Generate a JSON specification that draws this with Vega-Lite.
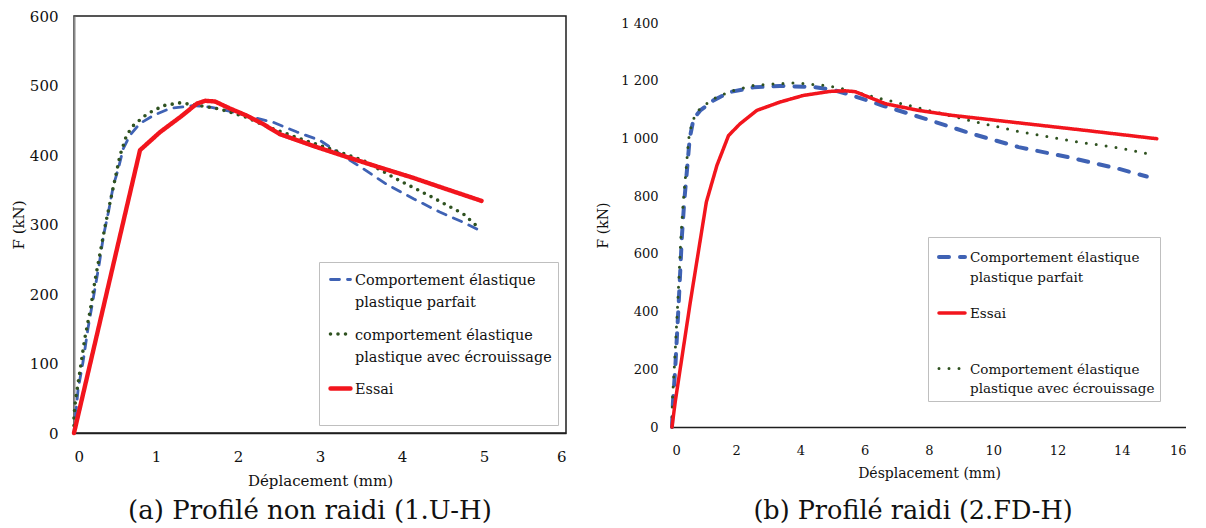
{
  "$schema": "https://vega.github.io/schema/vega-lite/v6.json",
  "background": "white",
  "padding": {"left": 10, "top": 8, "right": 0, "bottom": 0},
  "config": {
    "font": "DejaVu Serif",
    "view": {"stroke": "#1e1e1e", "strokeWidth": 1.5},
    "axis": {"grid": false, "ticks": false, "labelFont": "DejaVu Serif", "titleFont": "DejaVu Serif", "labelColor": "#111111", "titleColor": "#111111", "titleFontWeight": "normal"},
    "concat": {"spacing": 29},
    "legend": {"labelFont": "DejaVu Serif", "labelColor": "#111111", "labelLimit": 600},
    "title": {"font": "DejaVu Serif"}
  },
  "resolve": {
    "scale": {"color": "independent", "strokeDash": "independent", "strokeWidth": "independent", "x": "independent", "y": "independent"},
    "legend": {"color": "independent", "strokeDash": "independent", "strokeWidth": "independent"}
  },
  "datasets": {
    "L": [
      {"s": "Comportement élastique\nplastique parfait", "i": 0, "d": 0, "F": 0},
      {"s": "Comportement élastique\nplastique parfait", "i": 1, "d": 0.05, "F": 63},
      {"s": "Comportement élastique\nplastique parfait", "i": 2, "d": 0.11, "F": 102},
      {"s": "Comportement élastique\nplastique parfait", "i": 3, "d": 0.17, "F": 150},
      {"s": "Comportement élastique\nplastique parfait", "i": 4, "d": 0.24, "F": 197},
      {"s": "Comportement élastique\nplastique parfait", "i": 5, "d": 0.31, "F": 245},
      {"s": "Comportement élastique\nplastique parfait", "i": 6, "d": 0.36, "F": 284},
      {"s": "Comportement élastique\nplastique parfait", "i": 7, "d": 0.42, "F": 318},
      {"s": "Comportement élastique\nplastique parfait", "i": 8, "d": 0.48, "F": 356},
      {"s": "Comportement élastique\nplastique parfait", "i": 9, "d": 0.54, "F": 380},
      {"s": "Comportement élastique\nplastique parfait", "i": 10, "d": 0.60, "F": 409},
      {"s": "Comportement élastique\nplastique parfait", "i": 11, "d": 0.68, "F": 428},
      {"s": "Comportement élastique\nplastique parfait", "i": 12, "d": 0.80, "F": 445},
      {"s": "Comportement élastique\nplastique parfait", "i": 13, "d": 0.97, "F": 457},
      {"s": "Comportement élastique\nplastique parfait", "i": 14, "d": 1.17, "F": 467},
      {"s": "Comportement élastique\nplastique parfait", "i": 15, "d": 1.45, "F": 471},
      {"s": "Comportement élastique\nplastique parfait", "i": 16, "d": 1.66, "F": 469},
      {"s": "Comportement élastique\nplastique parfait", "i": 17, "d": 1.94, "F": 462},
      {"s": "Comportement élastique\nplastique parfait", "i": 18, "d": 2.19, "F": 454},
      {"s": "Comportement élastique\nplastique parfait", "i": 19, "d": 2.43, "F": 447},
      {"s": "Comportement élastique\nplastique parfait", "i": 20, "d": 2.72, "F": 433},
      {"s": "Comportement élastique\nplastique parfait", "i": 21, "d": 3.0, "F": 421},
      {"s": "Comportement élastique\nplastique parfait", "i": 22, "d": 3.24, "F": 402},
      {"s": "Comportement élastique\nplastique parfait", "i": 23, "d": 3.53, "F": 380},
      {"s": "Comportement élastique\nplastique parfait", "i": 24, "d": 3.81, "F": 358},
      {"s": "Comportement élastique\nplastique parfait", "i": 25, "d": 4.14, "F": 337},
      {"s": "Comportement élastique\nplastique parfait", "i": 26, "d": 4.46, "F": 318},
      {"s": "Comportement élastique\nplastique parfait", "i": 27, "d": 4.75, "F": 303},
      {"s": "Comportement élastique\nplastique parfait", "i": 28, "d": 4.99, "F": 289},
      {"s": "comportement élastique\nplastique avec écrouissage", "i": 0, "d": 0, "F": 0},
      {"s": "comportement élastique\nplastique avec écrouissage", "i": 1, "d": 0, "F": 25},
      {"s": "comportement élastique\nplastique avec écrouissage", "i": 2, "d": 0.02, "F": 49},
      {"s": "comportement élastique\nplastique avec écrouissage", "i": 3, "d": 0.07, "F": 87},
      {"s": "comportement élastique\nplastique avec écrouissage", "i": 4, "d": 0.13, "F": 135},
      {"s": "comportement élastique\nplastique avec écrouissage", "i": 5, "d": 0.20, "F": 178},
      {"s": "comportement élastique\nplastique avec écrouissage", "i": 6, "d": 0.26, "F": 222},
      {"s": "comportement élastique\nplastique avec écrouissage", "i": 7, "d": 0.32, "F": 260},
      {"s": "comportement élastique\nplastique avec écrouissage", "i": 8, "d": 0.38, "F": 298},
      {"s": "comportement élastique\nplastique avec écrouissage", "i": 9, "d": 0.44, "F": 332},
      {"s": "comportement élastique\nplastique avec écrouissage", "i": 10, "d": 0.50, "F": 365},
      {"s": "comportement élastique\nplastique avec écrouissage", "i": 11, "d": 0.56, "F": 399},
      {"s": "comportement élastique\nplastique avec écrouissage", "i": 12, "d": 0.64, "F": 428},
      {"s": "comportement élastique\nplastique avec écrouissage", "i": 13, "d": 0.72, "F": 442},
      {"s": "comportement élastique\nplastique avec écrouissage", "i": 14, "d": 0.89, "F": 459},
      {"s": "comportement élastique\nplastique avec écrouissage", "i": 15, "d": 1.09, "F": 471},
      {"s": "comportement élastique\nplastique avec écrouissage", "i": 16, "d": 1.29, "F": 475},
      {"s": "comportement élastique\nplastique avec écrouissage", "i": 17, "d": 1.54, "F": 471},
      {"s": "comportement élastique\nplastique avec écrouissage", "i": 18, "d": 1.78, "F": 466},
      {"s": "comportement élastique\nplastique avec écrouissage", "i": 19, "d": 2.11, "F": 454},
      {"s": "comportement élastique\nplastique avec écrouissage", "i": 20, "d": 2.31, "F": 443},
      {"s": "comportement élastique\nplastique avec écrouissage", "i": 21, "d": 2.72, "F": 425},
      {"s": "comportement élastique\nplastique avec écrouissage", "i": 22, "d": 3.12, "F": 409},
      {"s": "comportement élastique\nplastique avec écrouissage", "i": 23, "d": 3.53, "F": 392},
      {"s": "comportement élastique\nplastique avec écrouissage", "i": 24, "d": 3.94, "F": 365},
      {"s": "comportement élastique\nplastique avec écrouissage", "i": 25, "d": 4.34, "F": 341},
      {"s": "comportement élastique\nplastique avec écrouissage", "i": 26, "d": 4.75, "F": 315},
      {"s": "comportement élastique\nplastique avec écrouissage", "i": 27, "d": 4.93, "F": 296},
      {"s": "Essai", "i": 0, "d": 0, "F": 0},
      {"s": "Essai", "i": 1, "d": 0.805, "F": 407},
      {"s": "Essai", "i": 2, "d": 1.05, "F": 433},
      {"s": "Essai", "i": 3, "d": 1.3, "F": 455},
      {"s": "Essai", "i": 4, "d": 1.5, "F": 474},
      {"s": "Essai", "i": 5, "d": 1.6, "F": 478},
      {"s": "Essai", "i": 6, "d": 1.72, "F": 477},
      {"s": "Essai", "i": 7, "d": 1.9, "F": 467},
      {"s": "Essai", "i": 8, "d": 2.1, "F": 457},
      {"s": "Essai", "i": 9, "d": 2.3, "F": 445},
      {"s": "Essai", "i": 10, "d": 2.51, "F": 430},
      {"s": "Essai", "i": 11, "d": 2.92, "F": 413},
      {"s": "Essai", "i": 12, "d": 3.33, "F": 397},
      {"s": "Essai", "i": 13, "d": 3.73, "F": 382},
      {"s": "Essai", "i": 14, "d": 4.14, "F": 367},
      {"s": "Essai", "i": 15, "d": 4.54, "F": 351},
      {"s": "Essai", "i": 16, "d": 4.97, "F": 334}
    ],
    "R": [
      {"s": "Comportement élastique\nplastique parfait", "i": 0, "d": 0, "F": 0},
      {"s": "Comportement élastique\nplastique parfait", "i": 1, "d": 0.03, "F": 87},
      {"s": "Comportement élastique\nplastique parfait", "i": 2, "d": 0.10, "F": 202},
      {"s": "Comportement élastique\nplastique parfait", "i": 3, "d": 0.21, "F": 433},
      {"s": "Comportement élastique\nplastique parfait", "i": 4, "d": 0.31, "F": 664},
      {"s": "Comportement élastique\nplastique parfait", "i": 5, "d": 0.38, "F": 780},
      {"s": "Comportement élastique\nplastique parfait", "i": 6, "d": 0.47, "F": 895},
      {"s": "Comportement élastique\nplastique parfait", "i": 7, "d": 0.55, "F": 999},
      {"s": "Comportement élastique\nplastique parfait", "i": 8, "d": 0.67, "F": 1068},
      {"s": "Comportement élastique\nplastique parfait", "i": 9, "d": 0.88, "F": 1097},
      {"s": "Comportement élastique\nplastique parfait", "i": 10, "d": 1.29, "F": 1132},
      {"s": "Comportement élastique\nplastique parfait", "i": 11, "d": 1.81, "F": 1161},
      {"s": "Comportement élastique\nplastique parfait", "i": 12, "d": 2.54, "F": 1177},
      {"s": "Comportement élastique\nplastique parfait", "i": 13, "d": 3.36, "F": 1182},
      {"s": "Comportement élastique\nplastique parfait", "i": 14, "d": 4.40, "F": 1178},
      {"s": "Comportement élastique\nplastique parfait", "i": 15, "d": 5.0, "F": 1169},
      {"s": "Comportement élastique\nplastique parfait", "i": 16, "d": 5.61, "F": 1149},
      {"s": "Comportement élastique\nplastique parfait", "i": 17, "d": 6.55, "F": 1114},
      {"s": "Comportement élastique\nplastique parfait", "i": 18, "d": 7.89, "F": 1068},
      {"s": "Comportement élastique\nplastique parfait", "i": 19, "d": 9.34, "F": 1016},
      {"s": "Comportement élastique\nplastique parfait", "i": 20, "d": 10.79, "F": 970},
      {"s": "Comportement élastique\nplastique parfait", "i": 21, "d": 12.34, "F": 935},
      {"s": "Comportement élastique\nplastique parfait", "i": 22, "d": 13.90, "F": 895},
      {"s": "Comportement élastique\nplastique parfait", "i": 23, "d": 14.78, "F": 868},
      {"s": "Comportement élastique\nplastique avec écrouissage", "i": 0, "d": 0, "F": 0},
      {"s": "Comportement élastique\nplastique avec écrouissage", "i": 1, "d": 0.01, "F": 90},
      {"s": "Comportement élastique\nplastique avec écrouissage", "i": 2, "d": 0.07, "F": 202},
      {"s": "Comportement élastique\nplastique avec écrouissage", "i": 3, "d": 0.18, "F": 433},
      {"s": "Comportement élastique\nplastique avec écrouissage", "i": 4, "d": 0.28, "F": 664},
      {"s": "Comportement élastique\nplastique avec écrouissage", "i": 5, "d": 0.35, "F": 780},
      {"s": "Comportement élastique\nplastique avec écrouissage", "i": 6, "d": 0.44, "F": 895},
      {"s": "Comportement élastique\nplastique avec écrouissage", "i": 7, "d": 0.52, "F": 999},
      {"s": "Comportement élastique\nplastique avec écrouissage", "i": 8, "d": 0.63, "F": 1060},
      {"s": "Comportement élastique\nplastique avec écrouissage", "i": 9, "d": 0.85, "F": 1100},
      {"s": "Comportement élastique\nplastique avec écrouissage", "i": 10, "d": 1.25, "F": 1135},
      {"s": "Comportement élastique\nplastique avec écrouissage", "i": 11, "d": 1.81, "F": 1163},
      {"s": "Comportement élastique\nplastique avec écrouissage", "i": 12, "d": 2.54, "F": 1184},
      {"s": "Comportement élastique\nplastique avec écrouissage", "i": 13, "d": 3.36, "F": 1190},
      {"s": "Comportement élastique\nplastique avec écrouissage", "i": 14, "d": 3.91, "F": 1193},
      {"s": "Comportement élastique\nplastique avec écrouissage", "i": 15, "d": 4.43, "F": 1186},
      {"s": "Comportement élastique\nplastique avec écrouissage", "i": 16, "d": 4.79, "F": 1184},
      {"s": "Comportement élastique\nplastique avec écrouissage", "i": 17, "d": 5.41, "F": 1170},
      {"s": "Comportement élastique\nplastique avec écrouissage", "i": 18, "d": 6.03, "F": 1151},
      {"s": "Comportement élastique\nplastique avec écrouissage", "i": 19, "d": 7.17, "F": 1120},
      {"s": "Comportement élastique\nplastique avec écrouissage", "i": 20, "d": 8.10, "F": 1094},
      {"s": "Comportement élastique\nplastique avec écrouissage", "i": 21, "d": 9.34, "F": 1060},
      {"s": "Comportement élastique\nplastique avec écrouissage", "i": 22, "d": 10.79, "F": 1024},
      {"s": "Comportement élastique\nplastique avec écrouissage", "i": 23, "d": 12.34, "F": 993},
      {"s": "Comportement élastique\nplastique avec écrouissage", "i": 24, "d": 13.90, "F": 967},
      {"s": "Comportement élastique\nplastique avec écrouissage", "i": 25, "d": 14.83, "F": 947},
      {"s": "Essai", "i": 0, "d": 0, "F": 0},
      {"s": "Essai", "i": 1, "d": 0.10, "F": 87},
      {"s": "Essai", "i": 2, "d": 0.57, "F": 433},
      {"s": "Essai", "i": 3, "d": 1.07, "F": 780},
      {"s": "Essai", "i": 4, "d": 1.40, "F": 907},
      {"s": "Essai", "i": 5, "d": 1.76, "F": 1010},
      {"s": "Essai", "i": 6, "d": 2.12, "F": 1051},
      {"s": "Essai", "i": 7, "d": 2.64, "F": 1097},
      {"s": "Essai", "i": 8, "d": 3.36, "F": 1126},
      {"s": "Essai", "i": 9, "d": 4.09, "F": 1149},
      {"s": "Essai", "i": 10, "d": 4.92, "F": 1163},
      {"s": "Essai", "i": 11, "d": 5.4, "F": 1165},
      {"s": "Essai", "i": 12, "d": 5.7, "F": 1162},
      {"s": "Essai", "i": 13, "d": 6.65, "F": 1120},
      {"s": "Essai", "i": 14, "d": 7.68, "F": 1097},
      {"s": "Essai", "i": 15, "d": 8.72, "F": 1080},
      {"s": "Essai", "i": 16, "d": 10.79, "F": 1054},
      {"s": "Essai", "i": 17, "d": 12.86, "F": 1028},
      {"s": "Essai", "i": 18, "d": 15.09, "F": 999}
    ]
  },
  "hconcat": [
    {
      "width": 492,
      "height": 417,
      "title": {"text": "(a)  Profilé non raidi (1.U-H)", "orient": "bottom", "anchor": "middle", "fontSize": 26, "fontWeight": "normal", "color": "#111111", "offset": 10, "dx": -10},
      "data": {"name": "L"},
      "mark": {"type": "line", "strokeCap": "round", "strokeJoin": "round"},
      "encoding": {
        "x": {"field": "d", "type": "quantitative", "scale": {"domain": [0, 6], "nice": false},
          "axis": {"values": [0, 1, 2, 3, 4, 5, 6], "title": "Déplacement  (mm)", "labelFontSize": 15, "titleFontSize": 15, "labelPadding": 16, "titlePadding": 9, "domainColor": "#1e1e1e", "domainWidth": 1.5}},
        "y": {"field": "F", "type": "quantitative", "scale": {"domain": [0, 600], "nice": false},
          "axis": {"values": [0, 100, 200, 300, 400, 500, 600], "title": "F (kN)", "labelFontSize": 15, "titleFontSize": 15, "labelPadding": 16, "titlePadding": 3, "domainColor": "#8a8a8a", "domainWidth": 2}},
        "color": {"field": "s", "type": "nominal",
          "scale": {"domain": ["Comportement élastique\nplastique parfait", "comportement élastique\nplastique avec écrouissage", "Essai"], "range": ["#3f62b4", "#2f5220", "#f2151d"]},
          "legend": {"title": null, "orient": "none", "legendX": 245, "legendY": 246, "symbolType": "stroke", "symbolSize": 400, "symbolOffset": 3, "labelFontSize": 14.4, "labelOffset": 2, "rowPadding": 12, "padding": 6, "fillColor": "white", "strokeColor": "#bfbfbf",
            "labelExpr": "datum.label == 'Essai' ? ['Essai', ' '] : split(datum.label, '\\n')",
            "encode": {"labels": {"update": {"dy": {"value": 1.5}, "lineHeight": {"value": 22}}}, "symbols": {"update": {"strokeCap": {"value": "round"}}}}}},
        "strokeDash": {"field": "s", "type": "nominal",
          "scale": {"domain": ["Comportement élastique\nplastique parfait", "comportement élastique\nplastique avec écrouissage", "Essai"], "range": [[9, 8], [0, 7.5], [1, 0]]}},
        "strokeWidth": {"field": "s", "type": "nominal",
          "scale": {"domain": ["Comportement élastique\nplastique parfait", "comportement élastique\nplastique avec écrouissage", "Essai"], "range": [2.8, 4.4, 2]}},
        "order": {"field": "i", "type": "quantitative"}
      }
    },
    {
      "width": 514,
      "height": 411,
      "view": {"stroke": null},
      "title": {"text": "(b)  Profilé raidi (2.FD-H)", "orient": "bottom", "anchor": "middle", "fontSize": 25.5, "fontWeight": "normal", "color": "#111111", "offset": 19, "dx": -16},
      "layer": [
        {
          "mark": {"type": "rule", "color": "#1e1e1e", "strokeWidth": 1.5},
          "encoding": {"x": {"datum": 0, "type": "quantitative"}, "x2": {"datum": 16}, "y": {"datum": 1400, "type": "quantitative"}}
        },
        {
          "mark": {"type": "rule", "color": "#1e1e1e", "strokeWidth": 1.5},
          "encoding": {"x": {"datum": 16, "type": "quantitative"}, "y": {"datum": 0, "type": "quantitative"}, "y2": {"datum": 1400}}
        },
        {
          "mark": {"type": "rule", "color": "#8a8a8a", "strokeWidth": 2},
          "encoding": {"x": {"datum": 0, "type": "quantitative"}, "y": {"datum": 0, "type": "quantitative"}, "y2": {"datum": 1400}}
        },
        {
          "data": {"name": "R"},
          "mark": {"type": "line", "strokeCap": "round", "strokeJoin": "round"},
          "encoding": {
            "x": {"field": "d", "type": "quantitative"},
            "y": {"field": "F", "type": "quantitative"},
            "color": {"field": "s", "type": "nominal",
              "scale": {"domain": ["Comportement élastique\nplastique parfait", "Essai", "Comportement élastique\nplastique avec écrouissage"], "range": ["#3f62b4", "#f2151d", "#2f5220"]},
              "legend": {"title": null, "orient": "none", "legendX": 256, "legendY": 221, "symbolType": "stroke", "symbolSize": 676, "symbolOffset": 4, "labelFontSize": 13.5, "labelOffset": 3, "rowPadding": 14, "padding": 5, "fillColor": "white", "strokeColor": "#bfbfbf",
                "labelExpr": "datum.label == 'Essai' ? ['Essai', ' '] : split(datum.label, '\\n')",
                "encode": {"labels": {"update": {"dy": {"value": 1}, "lineHeight": {"value": 19.5}}}, "symbols": {"update": {"strokeCap": {"value": "round"}}}}}},
            "strokeDash": {"field": "s", "type": "nominal",
              "scale": {"domain": ["Comportement élastique\nplastique parfait", "Essai", "Comportement élastique\nplastique avec écrouissage"], "range": [[10, 11], [1, 0], [0, 10]]}},
            "strokeWidth": {"field": "s", "type": "nominal",
              "scale": {"domain": ["Comportement élastique\nplastique parfait", "Essai", "Comportement élastique\nplastique avec écrouissage"], "range": [4, 3, 4.8]}},
            "order": {"field": "i", "type": "quantitative"}
          }
        }
      ],
      "encoding": {
        "x": {"type": "quantitative", "scale": {"domain": [0, 16], "nice": false},
          "axis": {"values": [0, 2, 4, 6, 8, 10, 12, 14, 16], "title": "Désplacement (mm)", "labelFontSize": 13, "titleFontSize": 14, "labelPadding": 17, "titlePadding": 9, "domainColor": "#1e1e1e", "domainWidth": 1.5}},
        "y": {"type": "quantitative", "scale": {"domain": [0, 1424.3], "nice": false},
          "axis": {"values": [0, 200, 400, 600, 800, 1000, 1200, 1400], "labelExpr": "replace(format(datum.value, ','), ',', ' ')", "title": "F (kN)", "titleY": 209, "labelFontSize": 13, "titleFontSize": 14, "labelPadding": 14, "titlePadding": 10, "domain": false}}
      }
    }
  ]
}
